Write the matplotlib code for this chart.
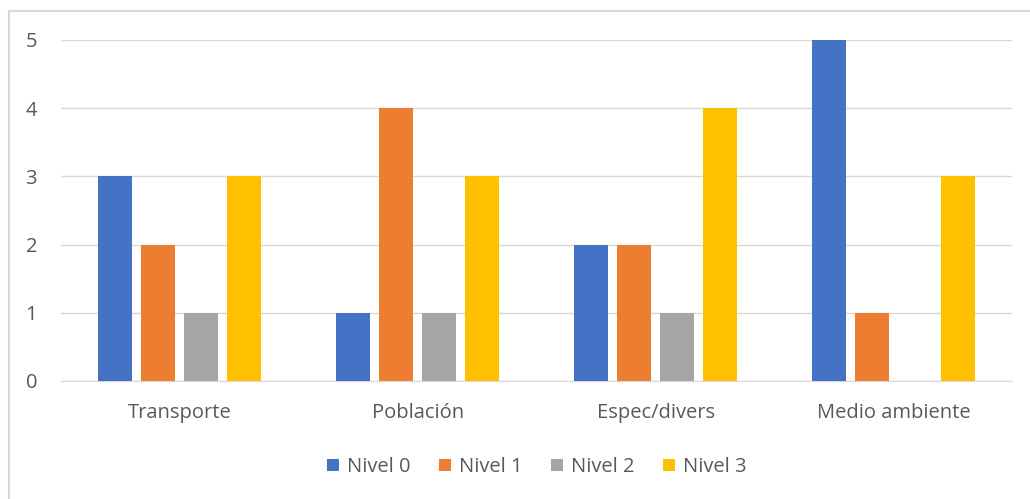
import matplotlib.pyplot as plt
import numpy as np
from matplotlib.patches import Rectangle

categories = ['Transporte', 'Población', 'Espec/divers', 'Medio ambiente']
series = ['Nivel 0', 'Nivel 1', 'Nivel 2', 'Nivel 3']
nivel0 = [3, 1, 2, 5]
nivel1 = [2, 4, 2, 1]
nivel2 = [1, 1, 1, 0]
nivel3 = [3, 3, 4, 3]
colors = ['#4472C4', '#ED7D31', '#A5A5A5', '#FFC000']

plt.rcParams['font.family'] = ['Open Sans', 'DejaVu Sans']
fig = plt.figure(figsize=(10.30, 4.99), dpi=100)
ax = fig.add_axes([0.059, 0.2365, 0.924, 0.6835])

x = np.arange(len(categories))
w = 0.143
pitch = 0.181
for i, (vals, name) in enumerate(zip([nivel0, nivel1, nivel2, nivel3], series)):
    ax.bar(x + (i - 1.5) * pitch, vals, w, color=colors[i], label=name, zorder=3)

ax.set_xlim(-0.5, 3.5)
ax.set_ylim(0, 5)
ax.set_yticks(range(6))
ax.set_xticks(x)
ax.set_xticklabels(categories)
ax.grid(axis='y', color='#D9D9D9', linewidth=1, zorder=0)
for s in ['top', 'right', 'left']:
    ax.spines[s].set_visible(False)
ax.spines['bottom'].set_color('#D9D9D9')
ax.tick_params(length=0, colors='#595959', labelsize=14.5)
ax.tick_params(axis='x', pad=16)
ax.tick_params(axis='y', pad=17)

ax.legend(loc='upper center', bbox_to_anchor=(0.5, -0.17), ncol=4, frameon=False,
          fontsize=14.5, handlelength=0.6, handleheight=0.6, columnspacing=1.4,
          handletextpad=0.4, labelcolor='#595959')

fig.patches.append(Rectangle((0.0085, -0.05), 1.2, 0.978 + 0.05, transform=fig.transFigure,
                             fill=False, edgecolor='#D9D9D9', linewidth=1.5))

fig.savefig('out.png', dpi=100)
